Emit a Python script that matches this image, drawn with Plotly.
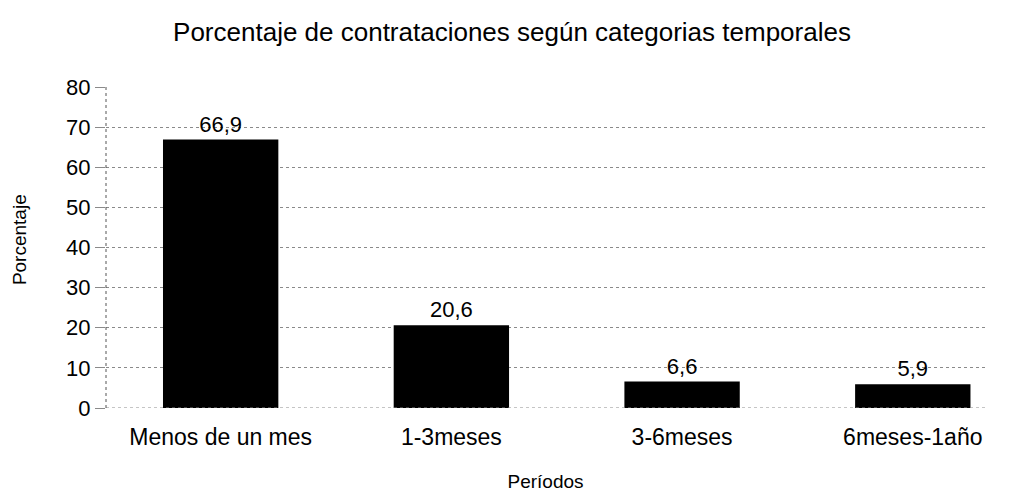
import plotly.graph_objects as go

categories = ["Menos de un mes", "1-3meses", "3-6meses", "6meses-1año"]
values = [66.9, 20.6, 6.6, 5.9]
labels = ["66,9", "20,6", "6,6", "5,9"]
y_ticks = [0, 10, 20, 30, 40, 50, 60, 70, 80]

font_family = "Liberation Sans, Arial, sans-serif"

fig = go.Figure()
fig.add_trace(go.Bar(
    x=list(range(len(categories))),
    y=values,
    text=labels,
    textposition="outside",
    textfont=dict(size=22, color="black", family=font_family),
    marker=dict(color="black", line=dict(width=0)),
    width=0.5,
    cliponaxis=False,
))

fig.update_layout(
    width=1012, height=493,
    margin=dict(l=98, r=35, t=79, b=93),
    paper_bgcolor="white", plot_bgcolor="white",
    font=dict(family=font_family, color="black"),
    title=dict(text="Porcentaje de contrataciones según categorias temporales",
               x=(512 - 8) / 1012, xanchor="center", y=1 - 24 / 493, yanchor="middle",
               font=dict(size=26, color="black")),
    showlegend=False,
)
fig.update_xaxes(
    tickmode="array", tickvals=list(range(len(categories))), ticktext=categories,
    range=[-0.497, 3.313], showgrid=False, zeroline=False, showline=False,
    tickfont=dict(size=23), ticks="", ticklabelstandoff=13, automargin=False,
    title=dict(text="Períodos", font=dict(size=19), standoff=25),
)
fig.update_yaxes(
    range=[0, 80], tickvals=y_ticks, showgrid=True,
    gridcolor="#8a8a8a", griddash="dot", gridwidth=1,
    zeroline=False, showline=False,
    tickfont=dict(size=22), ticks="outside", ticklen=10, tickcolor="#8a8a8a",
    ticklabelstandoff=0, automargin=False,
)
fig.add_annotation(text="Porcentaje", textangle=-90, showarrow=False,
                   xref="paper", yref="paper", x=-(98 - 11) / (1012 - 98 - 35),
                   y=0.523, xanchor="center", yanchor="middle",
                   font=dict(size=19, color="black"))
fig.add_shape(type="line", xref="paper", yref="y", x0=0, x1=1, y0=0, y1=0,
              line=dict(color="#8a8a8a", width=1, dash="dot"))
fig.add_shape(type="line", xref="paper", yref="paper", x0=0, x1=0, y0=0, y1=1,
              line=dict(color="#555555", width=1, dash="dot"))

fig.write_html("out.html")
